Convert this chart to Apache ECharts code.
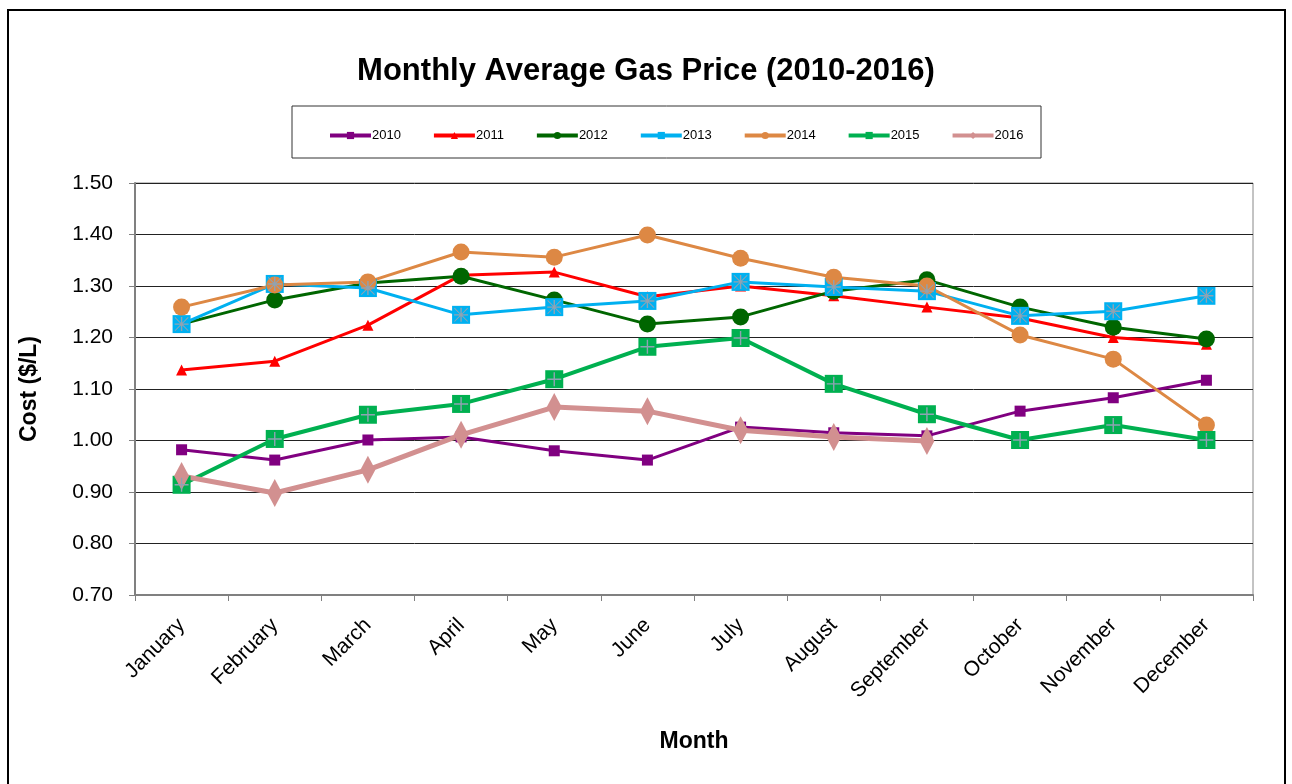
<!DOCTYPE html>
<html>
<head>
<meta charset="utf-8">
<script src="https://cdn.jsdelivr.net/npm/echarts@6/dist/echarts.min.js"></script>
<style>
html,body{margin:0;padding:0;background:#fff;}
#chart{width:1292px;height:784px;}
</style>
</head>
<body>
<div id="chart"></div>
<script>
const months = ['January','February','March','April','May','June','July','August','September','October','November','December'];
const yTicks = ['0.70','0.80','0.90','1.00','1.10','1.20','1.30','1.40','1.50'];
const years = ['2010','2011','2012','2013','2014','2015','2016'];
const v2010 = [0.982,0.962,1.001,1.007,0.980,0.962,1.026,1.015,1.009,1.057,1.083,1.117];
const v2011 = [1.137,1.154,1.224,1.321,1.327,1.279,1.300,1.281,1.259,1.238,1.200,1.187];
const v2012 = [1.226,1.273,1.306,1.319,1.273,1.226,1.240,1.290,1.312,1.259,1.220,1.197];
const v2013 = [1.226,1.304,1.296,1.244,1.259,1.271,1.308,1.298,1.290,1.242,1.251,1.281];
const v2014 = [1.259,1.302,1.308,1.366,1.356,1.399,1.354,1.317,1.300,1.205,1.158,1.030];
const v2015 = [0.914,1.003,1.050,1.071,1.119,1.182,1.199,1.110,1.051,1.001,1.030,1.001];
const v2016 = [0.931,0.898,0.943,1.011,1.065,1.057,1.020,1.007,0.999,null,null,null];

const FONT = "Arial, 'Liberation Sans', sans-serif";
const PLUS = 'path://M9,0 H11 V9 H20 V11 H11 V20 H9 V11 H0 V9 H9 Z';
const STAR = 'path://M9,0 H11 V9 H20 V11 H11 V20 H9 V11 H0 V9 H9 Z M1,0 L10,9 L19,0 L20,1 L11,10 L20,19 L19,20 L10,11 L1,20 L0,19 L9,10 L0,1 Z';
const chart = echarts.init(document.getElementById('chart'));

function mk(name, data, color, symbol, size, width) {
  return {
    name: name, type: 'line', data: data,
    symbol: symbol, symbolSize: size,
    lineStyle: {color: color, width: width},
    itemStyle: {color: color},
    emphasis: {disabled: true},
    animation: false,
    connectNulls: false
  };
}
function overlay(name, data, symbol, size) {
  return {
    name: name, type: 'line', data: data,
    symbol: symbol, symbolSize: size,
    lineStyle: {width: 0, opacity: 0},
    itemStyle: {color: '#8fa3b3'},
    emphasis: {disabled: true},
    animation: false, z: 5, silent: true
  };
}

chart.setOption({
  backgroundColor: '#fff',
  animation: false,
  title: {
    text: 'Monthly Average Gas Price (2010-2016)',
    left: 'center', top: 51,
    textStyle: {fontFamily: FONT, fontSize: 31, fontWeight: 'bold', color: '#000'}
  },
  graphic: [
    {type: 'rect', shape: {x: 8, y: 10, width: 1277, height: 800}, style: {fill: 'none', stroke: '#000', lineWidth: 2}, silent: true, z: -1},
    {type: 'rect', shape: {x: 292, y: 106, width: 749, height: 52}, style: {fill: 'none', stroke: '#333', lineWidth: 1}, silent: true}
  ],
  legend: {
    data: years,
    left: 323, top: 124,
    itemGap: 31, itemWidth: 41, itemHeight: 9,
    lineStyle: {width: 4},
    textStyle: {fontFamily: FONT, fontSize: 13, color: '#000', padding: [0,0,0,-4]},
    selectedMode: false
  },
  grid: {
    left: 135, right: 39, top: 183, bottom: 189,
    show: true, borderColor: '#888', borderWidth: 1, containLabel: false
  },
  xAxis: {
    type: 'category', data: months, boundaryGap: true,
    name: 'Month', nameLocation: 'middle', nameGap: 135,
    nameTextStyle: {fontFamily: FONT, fontSize: 23, fontWeight: 'bold', color: '#000'},
    axisLine: {lineStyle: {color: '#808080', width: 2}},
    axisTick: {show: true, alignWithLabel: false, length: 6, lineStyle: {color: '#808080'}},
    axisLabel: {rotate: 45, fontFamily: FONT, fontSize: 21, color: '#000', margin: 27, interval: 0},
    splitLine: {show: false}
  },
  yAxis: {
    type: 'value', min: 0.7, max: 1.5, interval: 0.1,
    name: 'Cost ($/L)', nameLocation: 'middle', nameGap: 94,
    nameTextStyle: {fontFamily: FONT, fontSize: 23, fontWeight: 'bold', color: '#000'},
    axisLine: {show: true, lineStyle: {color: '#808080', width: 2}},
    axisTick: {show: true, inside: false, length: 6, lineStyle: {color: '#808080'}},
    axisLabel: {fontFamily: FONT, fontSize: 21, color: '#000', margin: 22,
      formatter: function (v) { const s = v.toFixed(2); return yTicks.indexOf(s) >= 0 ? s : ''; }},
    splitLine: {show: true, lineStyle: {color: '#222', width: 1}}
  },
  series: [
    mk('2010', v2010, '#800080', 'rect', 11, 3),
    mk('2011', v2011, '#ff0000', 'triangle', 11, 3),
    mk('2012', v2012, '#006600', 'circle', 17, 3),
    mk('2013', v2013, '#00b0f0', 'rect', 18, 3),
    mk('2014', v2014, '#dd8844', 'circle', 17, 3),
    mk('2015', v2015, '#00b050', 'rect', 18, 4),
    mk('2016', v2016, '#d29090', 'diamond', [15, 28], 5),
    overlay('2013 mark', v2013, STAR, 14),
    overlay('2015 mark', v2015, PLUS, 14)
  ]
});
</script>
</body>
</html>
